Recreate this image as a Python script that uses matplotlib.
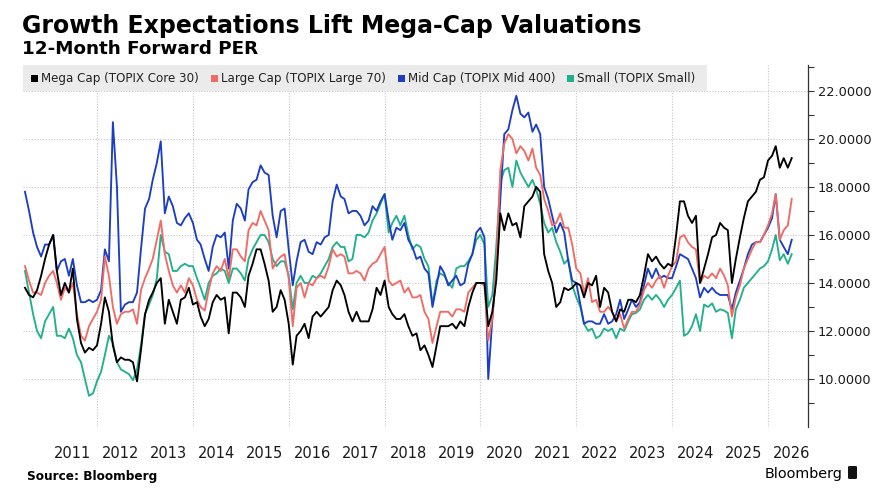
import numpy as np
import pandas as pd
import matplotlib
matplotlib.use("Agg")
import matplotlib.pyplot as plt
import matplotlib.dates as mdates
from matplotlib.patches import Rectangle, FancyBboxPatch
from matplotlib.ticker import FixedLocator, FuncFormatter, NullFormatter

# ---------------- data (monthly) ----------------
dates = pd.date_range("2010-07-01", periods=193, freq="MS")

mega = [13.8, 13.5, 13.4, 13.7, 14.3, 15.0, 15.6, 16.0, 14.5, 13.5, 14.0, 13.6, 14.6, 12.5, 11.5, 11.1, 11.3, 11.2, 11.4, 12.3, 13.4, 12.8, 11.4, 10.7, 10.9, 10.8, 10.8, 10.7,
        9.9, 11.2, 12.7, 13.3, 13.6, 14.0, 14.2, 12.3, 13.3, 12.8, 12.3, 13.3, 13.4, 13.8, 13.1, 13.2, 12.6, 12.2, 12.5, 13.2, 13.5, 13.3, 13.4, 11.9, 13.6, 13.6, 13.4, 13.0,
        14.3, 14.8, 15.4, 15.4, 14.8, 14.1, 12.8, 13.0, 13.7, 13.3, 12.3, 10.6, 11.8, 12.0, 12.3, 11.7, 12.6, 12.8, 12.6, 12.8, 13.0, 13.7, 14.1, 13.9, 13.5, 12.8, 12.4,
        12.8, 12.4, 12.4, 12.4, 12.9, 13.8, 13.5, 14.1, 13.0, 12.7, 12.5, 12.5, 12.7, 12.2, 11.8, 11.9, 11.2, 11.4, 11.0, 10.5, 11.4, 12.2, 12.2, 12.2, 12.3, 12.1, 12.4, 12.2,
        13.0, 13.6, 14.0, 14.0, 14.0, 12.2, 12.8, 14.1, 16.9, 16.2, 16.9, 16.4, 16.5, 15.9, 17.2, 17.4, 17.6, 18.0, 17.8, 15.2, 14.5, 14.0, 13.0, 13.2, 13.8, 13.7, 13.8,
        14.0, 13.9, 13.4, 14.0, 13.9, 14.3, 13.0, 13.8, 13.6, 12.8, 12.4, 12.9, 12.8, 13.3, 13.3, 13.2, 13.5, 14.3, 15.2, 14.9, 15.1, 14.8, 14.6, 14.8, 14.7, 16.0, 17.4, 17.4,
        16.8, 16.5, 16.8, 14.0, 14.6, 15.2, 15.9, 16.0, 16.5, 16.3, 16.2, 14.0, 15.0, 15.9, 16.7, 17.4, 17.6, 17.8, 18.3, 18.4, 19.1, 19.3, 19.7, 18.8, 19.2, 18.8, 19.2]

large = [14.7, 14.1, 13.6, 13.6, 13.5, 14.0, 14.3, 14.5, 14.0, 13.3, 13.8, 13.6, 14.0, 12.7, 11.8, 11.6, 12.2, 12.5, 12.8, 13.3, 15.1, 14.3, 13.0, 12.3, 12.7, 12.8, 12.8, 12.9,
         12.3, 13.7, 14.2, 14.6, 15.0, 15.8, 16.6, 15.2, 14.5, 13.9, 13.6, 13.9, 13.6, 14.2, 13.9, 13.3, 13.0, 12.85, 13.7, 14.4, 14.7, 14.5, 15.0, 14.2, 15.4, 15.4, 15.1, 14.9,
         16.2, 16.5, 16.4, 17.0, 16.6, 16.2, 14.6, 14.9, 15.1, 15.2, 14.2, 12.2, 13.8, 14.0, 13.4, 14.0, 13.9, 14.2, 14.3, 14.2, 14.7, 15.4, 15.1, 15.2, 15.1, 14.4, 14.4,
         14.5, 14.4, 14.1, 14.6, 14.8, 14.9, 15.2, 15.5, 14.1, 13.9, 14.0, 14.1, 13.6, 13.8, 13.4, 13.4, 13.5, 12.8, 12.5, 11.5, 12.2, 12.8, 12.8, 12.8, 12.6, 12.9, 12.9, 12.8,
         13.6, 13.8, 14.0, 14.0, 13.9, 11.6, 12.5, 14.7, 18.7, 19.8, 20.2, 20.0, 19.4, 19.7, 19.5, 19.1, 19.6, 18.8, 18.5, 17.5, 17.0, 16.4, 16.5, 16.9, 16.3, 16.3, 15.6,
         14.6, 14.4, 13.6, 14.2, 13.2, 13.3, 12.8, 12.8, 13.0, 12.8, 12.4, 12.7, 12.1, 12.5, 12.8, 12.8, 13.1, 13.7, 14.0, 13.8, 14.1, 14.3, 13.8, 14.3, 14.7, 14.9, 15.9, 16.0,
         15.7, 15.5, 15.4, 14.0, 14.3, 14.2, 14.4, 14.2, 14.6, 14.3, 13.9, 12.6, 13.4, 13.9, 14.6, 15.0, 15.4, 15.7, 15.7, 16.0, 16.4, 16.9, 17.7, 15.8, 16.2, 16.4, 17.5]

mid = [17.8, 17.0, 16.1, 15.5, 15.1, 15.6, 15.6, 16.0, 14.5, 14.9, 15.0, 14.3, 15.0, 13.9, 13.2, 13.2, 13.3, 13.2, 13.3, 13.7, 15.4, 14.9, 20.7, 18.0, 12.8, 13.1, 13.2, 13.2,
       13.6, 15.4, 17.1, 17.5, 18.3, 19.0, 19.9, 16.9, 17.6, 17.2, 16.5, 16.4, 16.7, 16.9, 16.5, 15.8, 15.6, 15.0, 14.5, 15.5, 16.0, 15.9, 16.1, 14.6, 16.6, 17.3, 17.1, 16.6,
       17.9, 18.2, 18.3, 18.9, 18.6, 18.5, 16.8, 15.9, 17.0, 17.1, 15.4, 13.9, 14.9, 15.7, 15.8, 15.3, 15.2, 15.7, 15.6, 15.9, 16.0, 17.4, 18.1, 17.6, 17.5, 16.9, 17.0,
       17.0, 16.8, 16.4, 16.6, 17.2, 17.0, 17.4, 17.7, 16.6, 15.8, 16.3, 16.2, 16.5, 15.8, 15.5, 15.0, 15.1, 14.6, 14.4, 13.0, 13.9, 14.7, 14.4, 13.9, 14.1, 14.3, 13.9, 14.0,
       14.8, 15.2, 16.1, 16.3, 15.9, 10.0, 12.5, 14.5, 17.5, 20.2, 20.4, 21.2, 21.8, 21.05, 20.9, 21.1, 20.3, 20.6, 20.2, 18.0, 17.5, 16.8, 16.1, 16.5, 16.1, 14.9, 14.1,
       14.0, 13.1, 12.3, 12.4, 12.4, 12.3, 12.3, 12.7, 12.3, 12.4, 12.7, 13.3, 12.5, 12.9, 13.3, 13.0, 13.2, 13.9, 14.6, 14.2, 14.6, 14.2, 14.3, 14.2, 14.2, 14.7, 15.2, 15.1,
       15.0, 14.6, 14.2, 13.4, 13.8, 13.6, 13.8, 13.6, 13.5, 13.5, 13.5, 12.9, 13.6, 14.1, 14.6, 15.2, 15.6, 15.7, 15.7, 16.0, 16.3, 16.7, 17.7, 15.8, 15.5, 15.2, 15.8]

small = [14.5, 13.6, 12.7, 12.0, 11.7, 12.4, 12.7, 13.0, 11.8, 11.8, 11.7, 12.1, 11.7, 11.0, 10.7, 10.0, 9.3, 9.4, 9.9, 10.3, 11.0, 11.8, 11.5, 10.7, 10.4, 10.3, 10.2, 9.95,
         10.4, 11.4, 12.7, 13.1, 13.5, 14.2, 16.0, 15.3, 15.2, 14.5, 14.5, 14.7, 14.8, 14.7, 14.7, 14.2, 13.8, 13.3, 14.0, 14.3, 14.4, 14.6, 14.5, 14.0, 14.6, 14.6, 14.4, 14.1,
         15.0, 15.4, 15.7, 16.0, 16.0, 15.7, 15.0, 14.7, 14.9, 14.9, 14.3, 12.9, 14.0, 14.3, 14.0, 14.0, 14.3, 14.2, 14.4, 14.7, 15.0, 15.5, 15.7, 15.5, 15.5, 14.9, 15.0,
         16.0, 16.0, 15.9, 16.1, 16.6, 16.9, 17.3, 17.7, 16.1, 16.5, 16.8, 16.4, 16.8, 16.0, 15.4, 15.6, 15.5, 15.0, 14.7, 13.1, 14.1, 14.4, 14.3, 14.0, 13.8, 14.6, 14.7, 14.7,
         14.9, 15.2, 15.8, 16.0, 15.6, 13.0, 13.5, 15.5, 18.2, 18.7, 18.8, 18.0, 19.1, 18.6, 18.3, 18.0, 18.3, 17.9, 17.3, 16.5, 16.1, 16.3, 15.7, 15.3, 14.8, 15.0, 13.9,
         13.4, 13.0, 12.3, 12.0, 12.1, 11.7, 11.8, 12.1, 12.0, 12.1, 11.7, 12.1, 12.0, 12.4, 12.7, 12.75, 12.9, 13.3, 13.5, 13.3, 13.5, 13.3, 13.0, 13.3, 13.5, 13.8, 14.1, 11.8,
         11.9, 12.2, 12.7, 12.0, 13.1, 13.0, 13.15, 12.8, 12.9, 12.85, 12.75, 11.7, 12.9, 13.3, 13.8, 14.0, 14.2, 14.4, 14.6, 14.7, 14.9, 15.4, 16.0, 14.95, 15.2, 14.8, 15.2]

names = ["Mega Cap (TOPIX Core 30)", "Large Cap (TOPIX Large 70)",
         "Mid Cap (TOPIX Mid 400)", "Small (TOPIX Small)"]
colors = ["#000000", "#f06b65", "#1c3fc2", "#22b08c"]
series = [mega, large, mid, small]

ytick_vals = [10, 12, 14, 16, 18, 20, 22]
ytick_minor = [9, 11, 13, 15, 17, 19, 21, 23]
year_labels = list(range(2011, 2027))
grid_years = list(range(2012, 2027, 2))

# ---------------- figure ----------------
W, H = 890, 495
fig = plt.figure(figsize=(W / 100, H / 100), dpi=100)
fig.patch.set_facecolor("white")

L, R, T, B = 23, 808, 65, 427
ax = fig.add_axes([L / W, 1 - B / H, (R - L) / W, (B - T) / H])

# draw order: small, mid, large, mega on top
for i in [3, 2, 1, 0]:
    ax.plot(dates, series[i], color=colors[i], lw=1.35, solid_joinstyle="round", zorder=3 + (3 - i))

ax.set_ylim(8.0, 23.08)
ax.set_xlim(pd.Timestamp("2010-06-16"), pd.Timestamp("2026-11-02"))

# spines
for s in ["top", "left", "bottom"]:
    ax.spines[s].set_visible(False)
ax.spines["right"].set_color("#333333")
ax.spines["right"].set_linewidth(0.9)

# y axis
ax.yaxis.tick_right()
ax.yaxis.set_major_locator(FixedLocator(ytick_vals))
ax.yaxis.set_minor_locator(FixedLocator(ytick_minor))
ax.yaxis.set_major_formatter(FuncFormatter(lambda v, p: f"{v:.4f}"))
ax.tick_params(axis="y", which="both", direction="out", length=4, width=0.8,
               color="#333333", labelsize=9.3, labelcolor="#1a1a1a", pad=3)
ax.grid(axis="y", which="major", color="#c4c4c4", linestyle=(0, (1, 1.5)), linewidth=0.8)

# x axis
ax.xaxis.set_major_locator(FixedLocator([mdates.date2num(pd.Timestamp(f"{y}-01-01")) for y in grid_years]))
ax.xaxis.set_major_formatter(NullFormatter())
ax.xaxis.set_minor_locator(FixedLocator([mdates.date2num(pd.Timestamp(f"{y}-07-01")) for y in year_labels]))
ax.xaxis.set_minor_formatter(FuncFormatter(lambda v, p: mdates.num2date(v).strftime("%Y")))
ax.tick_params(axis="x", which="both", length=0, pad=14, labelsize=10.5, labelcolor="#1a1a1a")
for lab in ax.xaxis.get_minorticklabels():
    lab.set_family(["Liberation Sans Narrow", "DejaVu Sans"])
ax.grid(axis="x", which="major", color="#c4c4c4", linestyle=(0, (1, 1.5)), linewidth=0.8)

# ---------------- legend (manual, gray band) ----------------
def fx(px):
    return px / W

def fy(py):
    return 1 - py / H

fig.patches.append(Rectangle((fx(23), fy(91)), fx(707) - fx(23), fy(65) - fy(91),
                             transform=fig.transFigure, facecolor="#ebebeb",
                             edgecolor="none", zorder=10))
sq_x = [31, 211, 398, 567]
tx_x = [41, 221, 408, 577]
for i in range(4):
    fig.patches.append(Rectangle((fx(sq_x[i]), fy(82)), 7 / W, 7 / H,
                                 transform=fig.transFigure, facecolor=colors[i],
                                 edgecolor="none", zorder=11))
    fig.text(fx(tx_x[i]), fy(78.5), names[i], fontsize=8.6, color="#222222",
             va="center", ha="left", zorder=12, family="DejaVu Sans")

# ---------------- titles & footer ----------------
renderer = fig.canvas.get_renderer()

def fit_text(x, y, s, target_w, size0, **kw):
    t = fig.text(fx(x), fy(y), s, fontsize=size0, va="baseline", ha="left", **kw)
    w = t.get_window_extent(renderer=renderer).width
    t.set_fontsize(size0 * target_w / w)
    return t

fit_text(22, 33, "Growth Expectations Lift Mega-Cap Valuations", 621, 16,
         fontweight="bold", color="#000000", family="DejaVu Sans")
fit_text(22, 54.5, "12-Month Forward PER", 236, 12,
         fontweight="bold", color="#000000", family="DejaVu Sans")
fit_text(27, 480, "Source: Bloomberg", 131, 10, fontweight="bold", color="#000000",
         family=["Liberation Sans Narrow", "DejaVu Sans"])
fit_text(765, 478, "Bloomberg", 78, 13, color="#000000",
         family=["Liberation Sans Narrow", "DejaVu Sans"])
fig.patches.append(FancyBboxPatch((fx(848), fy(479)), 9 / W, 13 / H,
                                  boxstyle="round,pad=0,rounding_size=0.002",
                                  transform=fig.transFigure, facecolor="#111111",
                                  edgecolor="none"))

fig.savefig("out.png", dpi=100, facecolor="white")
